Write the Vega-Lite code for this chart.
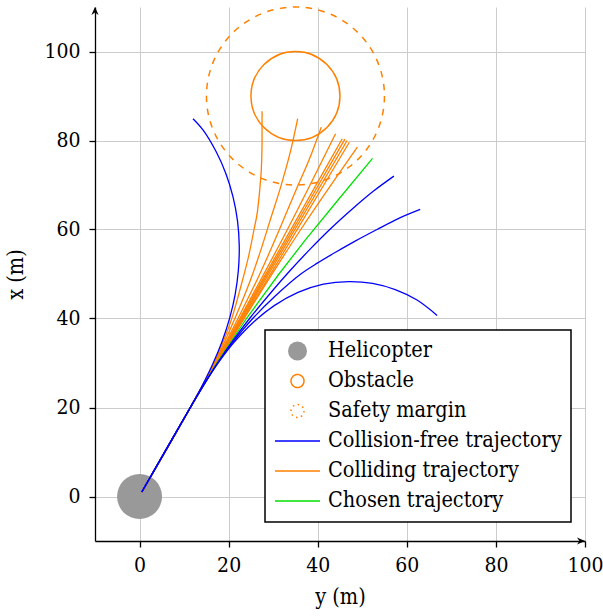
{
  "$schema": "https://vega.github.io/schema/vega-lite/v6.json",
  "width": 490,
  "height": 534,
  "autosize": {"type": "none"},
  "padding": {"left": 95, "top": 7, "right": 18, "bottom": 75},
  "config": {
    "view": {"stroke": null},
    "font": "DejaVu Serif Condensed, DejaVu Serif",
    "axis": {
      "labelFont": "DejaVu Serif Condensed, DejaVu Serif", "labelFontSize": 21, "labelColor": "black",
      "titleFont": "DejaVu Serif Condensed, DejaVu Serif", "titleFontSize": 21.5, "titleFontWeight": "normal", "titleColor": "black",
      "domainColor": "black", "domainWidth": 1.3, "tickColor": "black", "tickWidth": 1.3, "tickSize": 6,
      "gridColor": "#cccccc", "gridWidth": 1, "labelFlush": false, "labelOverlap": false
    },
    "legend": {
      "orient": "none", "legendX": 170, "legendY": 323, "padding": 9,
      "strokeColor": "black", "strokeWidth": 1.5, "fillColor": "white", "cornerRadius": 0,
      "labelFont": "DejaVu Serif Condensed, DejaVu Serif", "labelFontSize": 21.5, "labelColor": "black", "labelLimit": 400,
      "labelOffset": 7, "symbolSize": 2025, "clipHeight": 24, "rowPadding": 6, "symbolStrokeWidth": 1.5
    }
  },
  "datasets": {
    "free": [
      {"t":"B1","i":0,"ym":0.5,"xm":1},{"t":"B1","i":1,"ym":11.4,"xm":20},{"t":"B1","i":2,"ym":14.02,"xm":24.83},{"t":"B1","i":3,"ym":16.43,"xm":29.77},{"t":"B1","i":4,"ym":18.53,"xm":34.85},{"t":"B1","i":5,"ym":20.23,"xm":40.08},{"t":"B1","i":6,"ym":21.47,"xm":45.44},{"t":"B1","i":7,"ym":22.19,"xm":50.89},{"t":"B1","i":8,"ym":22.38,"xm":56.39},{"t":"B1","i":9,"ym":22.0,"xm":61.88},{"t":"B1","i":10,"ym":21.0,"xm":67.29},{"t":"B1","i":11,"ym":19.39,"xm":72.55},{"t":"B1","i":12,"ym":17.15,"xm":77.57},{"t":"B1","i":13,"ym":14.32,"xm":82.28},{"t":"B1","i":14,"ym":12,"xm":84.9},
      {"t":"B2","i":0,"ym":0.5,"xm":1},{"t":"B2","i":1,"ym":11.4,"xm":20},{"t":"B2","i":2,"ym":14.35,"xm":25},{"t":"B2","i":3,"ym":17.5,"xm":30},{"t":"B2","i":4,"ym":20.95,"xm":35},{"t":"B2","i":5,"ym":24.7,"xm":40},{"t":"B2","i":6,"ym":28.8,"xm":45},{"t":"B2","i":7,"ym":33.1,"xm":50},{"t":"B2","i":8,"ym":38.4,"xm":55.7},{"t":"B2","i":9,"ym":42.7,"xm":60},{"t":"B2","i":10,"ym":48.2,"xm":65},{"t":"B2","i":11,"ym":52.6,"xm":68.7},{"t":"B2","i":12,"ym":57.1,"xm":72},
      {"t":"B3","i":0,"ym":0.5,"xm":1},{"t":"B3","i":1,"ym":11.4,"xm":20},{"t":"B3","i":2,"ym":14.4,"xm":25},{"t":"B3","i":3,"ym":17.6,"xm":30},{"t":"B3","i":4,"ym":21.2,"xm":35},{"t":"B3","i":5,"ym":25.4,"xm":40},{"t":"B3","i":6,"ym":30.4,"xm":45},{"t":"B3","i":7,"ym":36.2,"xm":50},{"t":"B3","i":8,"ym":40,"xm":52.5},{"t":"B3","i":9,"ym":44.2,"xm":55},{"t":"B3","i":10,"ym":48.6,"xm":57.5},{"t":"B3","i":11,"ym":53.3,"xm":60},{"t":"B3","i":12,"ym":58.2,"xm":62.5},{"t":"B3","i":13,"ym":63,"xm":64.5},
      {"t":"B4","i":0,"ym":0.5,"xm":1},{"t":"B4","i":1,"ym":11.4,"xm":20},{"t":"B4","i":2,"ym":14.45,"xm":25.17},{"t":"B4","i":3,"ym":17.76,"xm":30.17},{"t":"B4","i":4,"ym":21.45,"xm":34.9},{"t":"B4","i":5,"ym":25.62,"xm":39.22},{"t":"B4","i":6,"ym":30.32,"xm":42.95},{"t":"B4","i":7,"ym":35.57,"xm":45.86},{"t":"B4","i":8,"ym":41.28,"xm":47.71},{"t":"B4","i":9,"ym":47.0,"xm":48.3},{"t":"B4","i":10,"ym":52.3,"xm":47.9},{"t":"B4","i":11,"ym":57.4,"xm":46.5},{"t":"B4","i":12,"ym":62.2,"xm":44.2},{"t":"B4","i":13,"ym":66.8,"xm":40.7}
    ],
    "chosen": [
      {"t":"G","i":0,"ym":0.5,"xm":1},{"t":"G","i":1,"ym":11.4,"xm":20},{"t":"G","i":2,"ym":17.35,"xm":30},{"t":"G","i":3,"ym":24,"xm":40},{"t":"G","i":4,"ym":31.3,"xm":50},{"t":"G","i":5,"ym":37.1,"xm":57.5},{"t":"G","i":6,"ym":44.7,"xm":66.8},{"t":"G","i":7,"ym":52.3,"xm":76}
    ],
    "colliding": [
      {"t":"O1","i":0,"ym":0.5,"xm":1},{"t":"O1","i":1,"ym":11.4,"xm":20},{"t":"O1","i":2,"ym":16.7,"xm":30},{"t":"O1","i":3,"ym":20.7,"xm":40},{"t":"O1","i":4,"ym":22.9,"xm":47.8},{"t":"O1","i":5,"ym":24.6,"xm":54.5},{"t":"O1","i":6,"ym":25.7,"xm":60},{"t":"O1","i":7,"ym":26.5,"xm":64.3},{"t":"O1","i":8,"ym":27.1,"xm":70.3},{"t":"O1","i":9,"ym":27.4,"xm":75},{"t":"O1","i":10,"ym":27.5,"xm":79.3},{"t":"O1","i":11,"ym":27.5,"xm":86.6},
      {"t":"O2","i":0,"ym":0.5,"xm":1},{"t":"O2","i":1,"ym":11.4,"xm":20},{"t":"O2","i":2,"ym":16.85,"xm":30},{"t":"O2","i":3,"ym":21.4,"xm":40},{"t":"O2","i":4,"ym":25.4,"xm":50},{"t":"O2","i":5,"ym":27.2,"xm":55.3},{"t":"O2","i":6,"ym":29.3,"xm":62},{"t":"O2","i":7,"ym":31.9,"xm":70.3},{"t":"O2","i":8,"ym":34.3,"xm":79.3},{"t":"O2","i":9,"ym":35.5,"xm":84.9},
      {"t":"O3","i":0,"ym":0.5,"xm":1},{"t":"O3","i":1,"ym":11.4,"xm":20},{"t":"O3","i":2,"ym":16.95,"xm":30},{"t":"O3","i":3,"ym":22.1,"xm":40},{"t":"O3","i":4,"ym":27,"xm":50},{"t":"O3","i":5,"ym":31.4,"xm":60},{"t":"O3","i":6,"ym":35.6,"xm":70},{"t":"O3","i":7,"ym":38,"xm":75.5},{"t":"O3","i":8,"ym":40.8,"xm":83},
      {"t":"O4","i":0,"ym":0.5,"xm":1},{"t":"O4","i":1,"ym":11.4,"xm":20},{"t":"O4","i":2,"ym":22.5,"xm":40},{"t":"O4","i":3,"ym":33.2,"xm":60},{"t":"O4","i":4,"ym":44,"xm":81.5},
      {"t":"O5","i":0,"ym":0.5,"xm":1},{"t":"O5","i":1,"ym":11.4,"xm":20},{"t":"O5","i":2,"ym":28.45,"xm":50.2},{"t":"O5","i":3,"ym":45.5,"xm":80.4},
      {"t":"O6","i":0,"ym":0.5,"xm":1},{"t":"O6","i":1,"ym":11.4,"xm":20},{"t":"O6","i":2,"ym":28.75,"xm":50.15},{"t":"O6","i":3,"ym":46.1,"xm":80.3},
      {"t":"O7","i":0,"ym":0.5,"xm":1},{"t":"O7","i":1,"ym":11.4,"xm":20},{"t":"O7","i":2,"ym":29,"xm":50},{"t":"O7","i":3,"ym":46.6,"xm":80},
      {"t":"O8","i":0,"ym":0.5,"xm":1},{"t":"O8","i":1,"ym":11.4,"xm":20},{"t":"O8","i":2,"ym":29.3,"xm":49.8},{"t":"O8","i":3,"ym":47.1,"xm":79.6},
      {"t":"O9","i":0,"ym":0.5,"xm":1},{"t":"O9","i":1,"ym":11.4,"xm":20},{"t":"O9","i":2,"ym":23.5,"xm":40},{"t":"O9","i":3,"ym":36.2,"xm":60},{"t":"O9","i":4,"ym":48.9,"xm":78.5}
    ]
  },
  "encoding": {
    "x": {"field": "ym", "type": "quantitative",
      "scale": {"domain": [-10, 100], "nice": false, "zero": false},
      "axis": {"values": [0, 20, 40, 60, 80, 100], "title": "y (m)", "labelPadding": 7, "titlePadding": 11, "grid": true}},
    "y": {"field": "xm", "type": "quantitative",
      "scale": {"domain": [-10, 110], "nice": false, "zero": false},
      "axis": {"values": [0, 20, 40, 60, 80, 100], "title": "x (m)", "labelPadding": 9, "titlePadding": 16, "grid": true}},
    "color": {"type": "nominal",
      "scale": {"domain": ["Helicopter", "Obstacle", "Safety margin", "Collision-free trajectory", "Colliding trajectory", "Chosen trajectory"],
                "range": ["#999999", "#ff8000", "#ff8000", "#0000ff", "#ff8000", "#00e000"]},
      "legend": {
        "title": null,
        "encode": {"symbols": {"update": {
          "shape": {"signal": "datum.value === 'Helicopter' || datum.value === 'Obstacle' || datum.value === 'Safety margin' ? 'circle' : 'stroke'"},
          "size": {"signal": "datum.value === 'Helicopter' ? 361 : (datum.value === 'Obstacle' || datum.value === 'Safety margin') ? 169 : 2025"},
          "fill": {"signal": "datum.value === 'Helicopter' ? '#999999' : 'transparent'"},
          "fillOpacity": {"signal": "datum.value === 'Helicopter' ? 1 : 0"},
          "stroke": {"signal": "datum.value === 'Helicopter' ? 'transparent' : datum.value === 'Collision-free trajectory' ? '#0000ff' : datum.value === 'Chosen trajectory' ? '#00e000' : '#ff8000'"},
          "strokeOpacity": {"signal": "datum.value === 'Helicopter' ? 0 : 1"},
          "strokeDash": {"signal": "datum.value === 'Safety margin' ? [1.5, 3.5] : [1, 0]"},
          "strokeWidth": {"value": 1.5},
          "opacity": {"value": 1}
        }}}
      }}
  },
  "layer": [
    {
      "data": {"values": [{"ym": 0, "xm": 0}]},
      "mark": {"type": "point", "filled": true, "size": 2025, "opacity": 1},
      "encoding": {"color": {"datum": "Helicopter"}}
    },
    {
      "data": {"values": [{"ym": 35, "xm": 90}]},
      "mark": {"type": "point", "filled": false, "size": 7921, "strokeWidth": 1.5, "opacity": 1},
      "encoding": {"color": {"datum": "Obstacle"}}
    },
    {
      "data": {"values": [{"ym": 35, "xm": 90}]},
      "mark": {"type": "point", "filled": false, "size": 31684, "strokeWidth": 1.5, "strokeDash": [6.5, 6.5], "opacity": 1},
      "encoding": {"color": {"datum": "Safety margin"}}
    },
    {
      "data": {"name": "colliding"},
      "mark": {"type": "line", "strokeWidth": 1.3, "interpolate": "monotone"},
      "encoding": {"color": {"datum": "Colliding trajectory"}, "detail": {"field": "t"}, "order": {"field": "i"}}
    },
    {
      "data": {"name": "chosen"},
      "mark": {"type": "line", "strokeWidth": 1.3},
      "encoding": {"color": {"datum": "Chosen trajectory"}, "detail": {"field": "t"}, "order": {"field": "i"}}
    },
    {
      "data": {"name": "free"},
      "mark": {"type": "line", "strokeWidth": 1.3, "interpolate": "catmull-rom"},
      "encoding": {"color": {"datum": "Collision-free trajectory"}, "detail": {"field": "t"}, "order": {"field": "i"}}
    },
    {
      "data": {"values": [{"ym": 100, "xm": -10}]},
      "mark": {"type": "point", "filled": true, "opacity": 1, "color": "black", "size": 256, "shape": "M0,0 L-1,-0.45 L-0.7,0 L-1,0.45 Z"},
      "encoding": {"color": {"value": "black"}}
    },
    {
      "data": {"values": [{"ym": -10, "xm": 110}]},
      "mark": {"type": "point", "filled": true, "opacity": 1, "color": "black", "size": 256, "shape": "M0,0 L-0.45,1 L0,0.7 L0.45,1 Z"},
      "encoding": {"color": {"value": "black"}}
    }
  ]
}
